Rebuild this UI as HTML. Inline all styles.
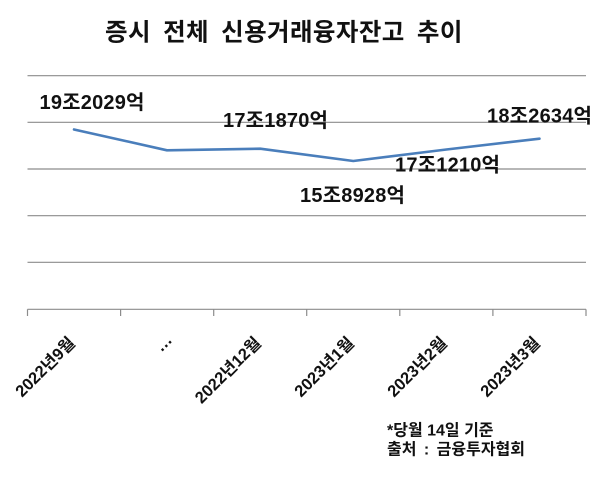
<!DOCTYPE html>
<html>
<head>
<meta charset="utf-8">
<style>
  html, body { margin:0; padding:0; background:#ffffff; }
  svg { display:block; }
  text { font-family: "Liberation Sans", "Noto Sans CJK KR", "NanumGothic", sans-serif; font-weight:bold; fill:#111; }
</style>
</head>
<body>
<svg width="600" height="486" viewBox="0 0 600 486" xmlns="http://www.w3.org/2000/svg">
  <rect x="0" y="0" width="600" height="486" fill="#ffffff"/>
  <!-- title -->
  <text x="105" y="40.5" font-size="24.5" letter-spacing="0.4" word-spacing="5">증시 전체 신용거래융자잔고 추이</text>

  <!-- gridlines -->
  <g stroke="#8c8c8c" stroke-width="1.2" fill="none">
    <line x1="27.5" y1="75.7" x2="586" y2="75.7"/>
    <line x1="27.5" y1="122.3" x2="586" y2="122.3"/>
    <line x1="27.5" y1="169" x2="586" y2="169"/>
    <line x1="27.5" y1="215.7" x2="586" y2="215.7"/>
    <line x1="27.5" y1="262.3" x2="586" y2="262.3"/>
    <line x1="27.5" y1="309.3" x2="586" y2="309.3"/>
    <!-- ticks -->
    <line x1="27.5" y1="309.3" x2="27.5" y2="316"/>
    <line x1="120.6" y1="309.3" x2="120.6" y2="316"/>
    <line x1="213.7" y1="309.3" x2="213.7" y2="316"/>
    <line x1="306.7" y1="309.3" x2="306.7" y2="316"/>
    <line x1="399.8" y1="309.3" x2="399.8" y2="316"/>
    <line x1="492.9" y1="309.3" x2="492.9" y2="316"/>
    <line x1="586" y1="309.3" x2="586" y2="316"/>
  </g>

  <!-- series -->
  <polyline points="74,129.5 167,150.3 260.2,148.7 353.3,161 446.4,149.5 539.5,138.7"
            fill="none" stroke="#4A7EBB" stroke-width="2.6" stroke-linejoin="round" stroke-linecap="round"/>

  <!-- data labels -->
  <g font-size="20" letter-spacing="0.2">
    <text x="39.5" y="109">19조2029억</text>
    <text x="223" y="127">17조1870억</text>
    <text x="487" y="122.5">18조2634억</text>
    <text x="395" y="171.5">17조1210억</text>
    <text x="300" y="202">15조8928억</text>
  </g>

  <!-- x-axis labels -->
  <g font-size="16.5" text-anchor="end">
    <text transform="translate(76,344) rotate(-45)">2022년9월</text>
    <text transform="translate(173,341) rotate(-45)">…</text>
    <text transform="translate(262,344) rotate(-45)">2022년12월</text>
    <text transform="translate(355,344) rotate(-45)">2023년1월</text>
    <text transform="translate(448,344) rotate(-45)">2023년2월</text>
    <text transform="translate(541,344) rotate(-45)">2023년3월</text>
  </g>

  <!-- footnote -->
  <g font-size="16">
    <text x="387" y="435.5">*당월 14일 기준</text>
    <text x="387" y="454.5" word-spacing="3">출처 : 금융투자협회</text>
  </g>
</svg>
</body>
</html>
